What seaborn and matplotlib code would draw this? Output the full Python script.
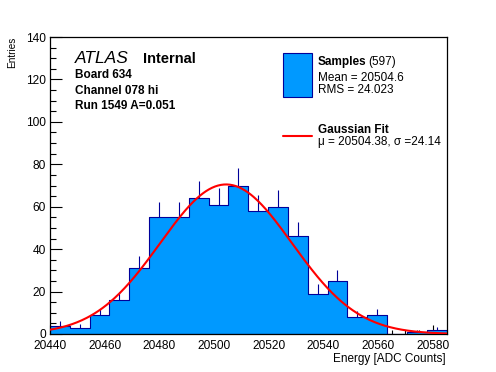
import numpy as np
import pandas as pd
import matplotlib
matplotlib.use("Agg")
import matplotlib.pyplot as plt
import seaborn as sns
from matplotlib.patches import Rectangle
from matplotlib.lines import Line2D
from matplotlib.ticker import MultipleLocator

# ---- data ----
x_min, x_max = 20440, 20585
n_bins = 20
counts = [4, 3, 9, 16, 31, 55, 55, 64, 61, 70, 58, 60, 46, 19, 25, 8, 9, 0, 1, 2]
fit_mu = 20504.38
fit_sigma = 24.14
fit_amp = 70.5
x_ticks = [20440, 20460, 20480, 20500, 20520, 20540, 20560, 20580]
y_ticks = [0, 20, 40, 60, 80, 100, 120, 140]
info_lines = ["Board 634", "Channel 078 hi", "Run 1549 A=0.051"]
n_entries = 597
hist_mean = "20504.6"
hist_rms = "24.023"

sns.set_theme(style="white")
plt.rcParams['font.family'] = ['Liberation Sans', 'DejaVu Sans']
for k in ["text.color", "axes.labelcolor", "xtick.color", "ytick.color", "axes.edgecolor"]:
    plt.rcParams[k] = "black"

W, H = 496, 372
fig = plt.figure(figsize=(W / 100, H / 100), dpi=100)
fig.patch.set_facecolor("white")

def fx(x):
    return x / W

def fy(y):
    return 1 - y / H

ax = fig.add_axes([fx(50), fy(334), fx(446.5) - fx(50), fy(37) - fy(334)])
ax.set_facecolor("white")

edges = np.linspace(x_min, x_max, n_bins + 1)
centers = 0.5 * (edges[:-1] + edges[1:])
cnt = np.array(counts, dtype=float)
df = pd.DataFrame({"x": centers, "w": cnt})

fill_c = "#0099ff"
edge_c = "#000099"

# error bars (lower half hidden under fill like in ROOT)
mask = cnt > 0
err = np.sqrt(cnt)
ax.vlines(centers[mask], (cnt - err)[mask], (cnt + err)[mask], color=edge_c, lw=0.8, zorder=1)

sns.histplot(data=df, x="x", weights="w", bins=n_bins, binrange=(x_min, x_max),
             element="step", fill=True,
             facecolor=fill_c, edgecolor=edge_c, alpha=1, linewidth=0.8, ax=ax, zorder=2)

xs = np.linspace(x_min, x_max, 400)
ys = fit_amp * np.exp(-0.5 * ((xs - fit_mu) / fit_sigma) ** 2)
sns.lineplot(x=xs, y=ys, color="red", linewidth=1.5, ax=ax, zorder=3, estimator=None)

ax.set_xlim(x_min, x_max)
ax.set_ylim(0, 140)
ax.set_xticks(x_ticks)
ax.set_yticks(y_ticks)
ax.xaxis.set_minor_locator(MultipleLocator(5))
ax.yaxis.set_minor_locator(MultipleLocator(5))
ax.set_xticklabels([str(t) for t in x_ticks])
ax.set_yticklabels([str(t) for t in y_ticks])
ax.tick_params(axis="x", which="major", direction="in", length=6.5, width=0.8,
               labelsize=8.6, pad=4.5, top=False, bottom=True, color="black", labelcolor="black")
ax.tick_params(axis="x", which="minor", direction="in", length=3.2, width=0.8,
               top=False, bottom=True, color="black")
ax.tick_params(axis="y", which="major", direction="in", length=8.6, width=0.8,
               labelsize=8.6, pad=3, left=True, right=False, color="black", labelcolor="black")
ax.tick_params(axis="y", which="minor", direction="in", length=4.3, width=0.8,
               left=True, right=False, color="black")
for s in ax.spines.values():
    s.set_visible(True)
    s.set_color("black")
    s.set_linewidth(0.9)
ax.set_xlabel("")
ax.set_ylabel("")
ax.grid(False)

# axis titles
fig.text(fx(446), fy(362), "Energy [ADC Counts]", ha="right", va="baseline", fontsize=8.5)
fig.text(fx(17), fy(37), "Entries", ha="right", va="top", rotation=90, fontsize=7.2)

# ATLAS label
fig.text(fx(75), fy(63.3), "ATLAS", ha="left", va="baseline", fontsize=12.5, style="italic")
fig.text(fx(143.3), fy(63.3), "Internal", ha="left", va="baseline", fontsize=10.5, weight="bold")
for i, line in enumerate(info_lines):
    fig.text(fx(75), fy(78.3 + 15.4 * i), line, ha="left", va="baseline", fontsize=8.5, weight="bold")

# legend
fig.patches.append(Rectangle((fx(283.3), fy(96.7)), fx(311.7) - fx(283.3), fy(53.3) - fy(96.7),
                             transform=fig.transFigure, facecolor=fill_c, edgecolor=edge_c, lw=0.8))
fig.text(fx(317.7), fy(65), "Samples", ha="left", va="baseline", fontsize=8.5, weight="bold")
fig.text(fx(368.5), fy(65), "(%d)" % n_entries, ha="left", va="baseline", fontsize=8.5)
fig.text(fx(317.7), fy(80.7), "Mean = " + hist_mean, ha="left", va="baseline", fontsize=8.5)
fig.text(fx(317.7), fy(93.3), "RMS = " + hist_rms, ha="left", va="baseline", fontsize=8.5)
fig.lines.append(Line2D([fx(283.3), fx(311.7)], [fy(136), fy(136)], transform=fig.transFigure,
                        color="red", lw=1.5))
fig.text(fx(317.7), fy(132.7), "Gaussian Fit", ha="left", va="baseline", fontsize=8.5, weight="bold")
fig.text(fx(317.7), fy(145), "\u03bc = %.2f, \u03c3 =%.2f" % (fit_mu, fit_sigma),
         ha="left", va="baseline", fontsize=8.5)

fig.savefig("out.png", dpi=100, facecolor="white")
